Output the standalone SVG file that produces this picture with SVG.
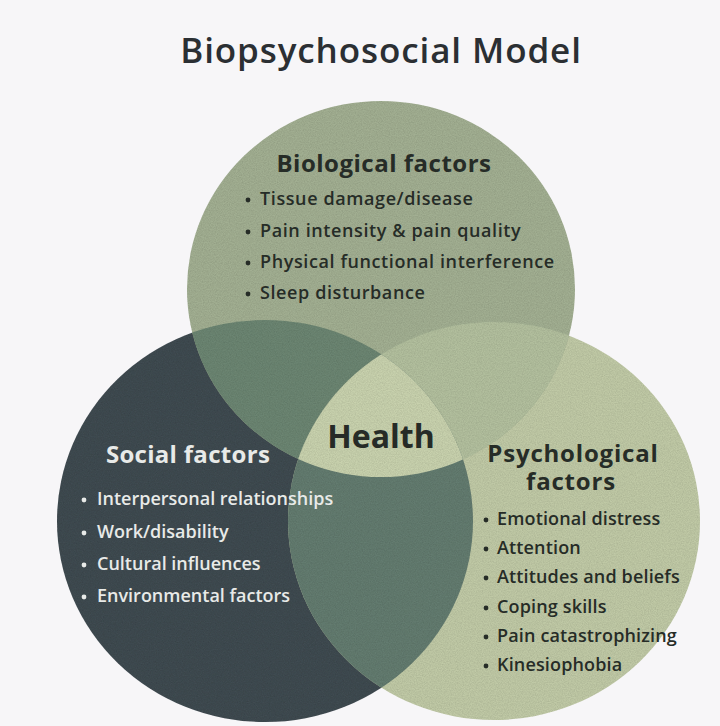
<svg xmlns="http://www.w3.org/2000/svg" width="720" height="726" viewBox="0 0 720 726">
  <defs>
    <style>
      .title { font-family: "Open Sans", "Noto Sans", "DejaVu Sans", sans-serif; font-size: 35px; font-weight: 600; letter-spacing: 0.9px; fill: #2b2f33; }
      .head { font-family: "Open Sans", "Noto Sans", "DejaVu Sans", sans-serif; font-size: 24px; font-weight: 700; }
      .item { font-family: "Open Sans", "Noto Sans", "DejaVu Sans", sans-serif; font-size: 18px; font-weight: 600; }
      .dark { fill: #262c27; }
      .light { fill: #e8eae8; }
      .health { font-family: "Open Sans", "Noto Sans", "DejaVu Sans", sans-serif; font-size: 32px; font-weight: 700; fill: #262b27; }
    </style>
    <clipPath id="clipSocial"><ellipse cx="265" cy="521" rx="208" ry="201"/></clipPath>
    <clipPath id="clipPsych"><ellipse cx="494" cy="521" rx="206" ry="199"/></clipPath>
    <filter id="grain" filterUnits="userSpaceOnUse" x="0" y="0" width="720" height="726">
      <feTurbulence type="fractalNoise" baseFrequency="0.85" numOctaves="2" seed="7" result="noise"/>
      <feColorMatrix in="noise" type="matrix" values="0 0 0 0 0  0 0 0 0 0  0 0 0 0 0  0.35 0 0 0 -0.1" result="speck"/>
      <feComposite in="speck" in2="SourceGraphic" operator="in" result="grainIn"/>
      <feMerge>
        <feMergeNode in="SourceGraphic"/>
        <feMergeNode in="grainIn"/>
      </feMerge>
    </filter>
  </defs>

  <rect width="720" height="726" fill="#f7f6f8"/>

  <text class="title" x="381" y="63" text-anchor="middle">Biopsychosocial Model</text>

  <!-- Venn discs and their overlaps -->
  <g id="venn" filter="url(#grain)">
    <ellipse id="social-disc" cx="265" cy="521" rx="208" ry="201" fill="#414b51"/>
    <ellipse id="psych-disc" cx="494" cy="521" rx="206" ry="199" fill="#c0c9a6"/>
    <ellipse id="bio-disc" cx="381" cy="289" rx="194" ry="188" fill="#a2af92"/>
    <!-- pairwise overlaps -->
    <ellipse cx="381" cy="289" rx="194" ry="188" fill="#6c8572" clip-path="url(#clipSocial)"/>
    <ellipse cx="381" cy="289" rx="194" ry="188" fill="#b2bf9e" clip-path="url(#clipPsych)"/>
    <ellipse cx="265" cy="521" rx="208" ry="201" fill="#637b70" clip-path="url(#clipPsych)"/>
    <!-- centre: all three -->
    <g clip-path="url(#clipSocial)">
      <ellipse cx="381" cy="289" rx="194" ry="188" fill="#c8d1ad" clip-path="url(#clipPsych)"/>
    </g>
  </g>

  <g id="biological">
    <text class="head dark" x="384" y="172" text-anchor="middle" font-size="25" letter-spacing="0.5">Biological factors</text>
    <g letter-spacing="0.6">
      <text class="item dark" x="260" y="205">Tissue damage/disease</text>
      <text class="item dark" x="260" y="237">Pain intensity &amp; pain quality</text>
      <text class="item dark" x="260" y="268">Physical functional interference</text>
      <text class="item dark" x="260" y="299">Sleep disturbance</text>
    </g>
    <g class="dark">
      <circle cx="248" cy="200" r="2.4"/>
      <circle cx="248" cy="232" r="2.4"/>
      <circle cx="248" cy="263" r="2.4"/>
      <circle cx="248" cy="294" r="2.4"/>
    </g>
  </g>

  <g id="social">
    <text class="head light" x="188" y="463" text-anchor="middle" letter-spacing="0.3">Social factors</text>
    <g font-size="17.6">
      <text class="item light" x="97" y="505" font-size="17.6">Interpersonal relationships</text>
      <text class="item light" x="97" y="538" font-size="17.6">Work/disability</text>
      <text class="item light" x="97" y="570" font-size="17.6">Cultural influences</text>
      <text class="item light" x="97" y="602" font-size="17.6">Environmental factors</text>
    </g>
    <g class="light">
      <circle cx="84" cy="500" r="2.4"/>
      <circle cx="84" cy="533" r="2.4"/>
      <circle cx="84" cy="565" r="2.4"/>
      <circle cx="84" cy="597" r="2.4"/>
    </g>
  </g>

  <g id="psychological">
    <text class="head dark" x="573" y="462" text-anchor="middle" letter-spacing="0.8">Psychological</text>
    <text class="head dark" x="571" y="490" text-anchor="middle" letter-spacing="0.8">factors</text>
    <g letter-spacing="0.15">
      <text class="item dark" x="497" y="525">Emotional distress</text>
      <text class="item dark" x="497" y="554">Attention</text>
      <text class="item dark" x="497" y="583">Attitudes and beliefs</text>
      <text class="item dark" x="497" y="613">Coping skills</text>
      <text class="item dark" x="497" y="642">Pain catastrophizing</text>
      <text class="item dark" x="497" y="671">Kinesiophobia</text>
    </g>
    <g class="dark">
      <circle cx="486" cy="520" r="2.4"/>
      <circle cx="486" cy="549" r="2.4"/>
      <circle cx="486" cy="578" r="2.4"/>
      <circle cx="486" cy="608" r="2.4"/>
      <circle cx="486" cy="637" r="2.4"/>
      <circle cx="486" cy="666" r="2.4"/>
    </g>
  </g>

  <g id="health">
    <text class="health" x="381" y="448" text-anchor="middle">Health</text>
  </g>
</svg>
